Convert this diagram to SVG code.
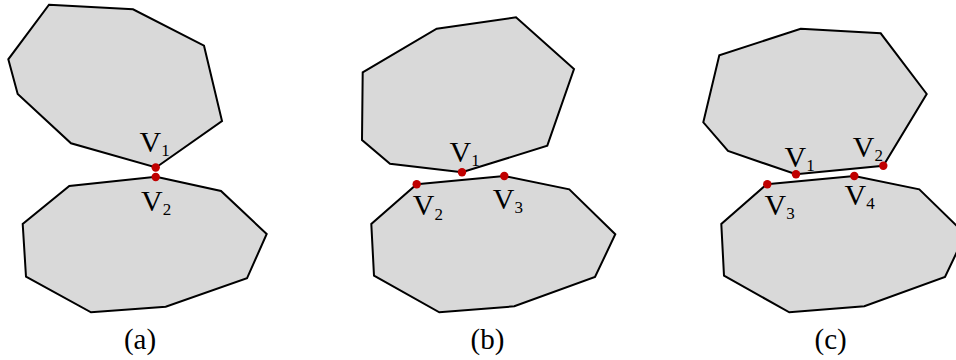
<svg xmlns="http://www.w3.org/2000/svg" width="956" height="360" viewBox="0 0 956 360">
<style>
.poly{fill:#d9d9d9;stroke:#000;stroke-width:2;stroke-linejoin:miter}
.dot{fill:#c00000}
</style>
<rect width="956" height="360" fill="#fff"/>
<g id="panel-a">
<g id="a-top"><polygon class="poly" points="49,4.7 133,9.3 204,45.7 222,121 156,167.5 71,143.3 17.7,94 8.3,59.3"/></g>
<g id="a-bottom"><polygon class="poly" points="156,176.7 221,191 266.7,234 247,278.3 165.7,306.7 91,312.3 26,276.7 22.7,224 69.3,186"/></g>
</g>
<g id="panel-b">
<g id="b-top"><polygon class="poly" points="436.7,28.7 516,17.3 574,69 547.3,145.7 462,172.3 390,163.7 362,140 362.7,72.3"/></g>
<g id="b-bottom"><polygon class="poly" points="416.7,184.3 504.3,176 569.3,189.3 615.3,234.3 595,277 514.3,306.3 439.3,312.3 374,275.7 371.3,224"/></g>
</g>
<g id="panel-c">
<g id="c-top"><polygon class="poly" points="800.7,28.7 880.7,33.3 926.7,94 883.3,165.7 796,174.3 728,151 703.3,122.3 719.3,55.3"/></g>
<g id="c-bottom"><polygon class="poly" points="766.7,184.3 854.3,176 919.3,189.3 965.3,234.3 945,277 864.3,306.3 789.3,312.3 724,275.7 721.3,224"/></g>
</g>
<g id="vertices">
<circle class="dot" cx="155.7" cy="167.5" r="4.2"/>
<circle class="dot" cx="155.7" cy="177" r="4.2"/>
<circle class="dot" cx="462" cy="172.3" r="4.2"/>
<circle class="dot" cx="416.7" cy="184.3" r="4.2"/>
<circle class="dot" cx="504.3" cy="176" r="4.2"/>
<circle class="dot" cx="796" cy="174.3" r="4.2"/>
<circle class="dot" cx="883.3" cy="165.7" r="4.2"/>
<circle class="dot" cx="767.3" cy="184.3" r="4.2"/>
<circle class="dot" cx="854.3" cy="176" r="4.2"/>
</g>
<g id="labels" font-family="'Liberation Serif', 'Times New Roman', serif" font-size="30" fill="#000">
<text x="139.5" y="152.3">V<tspan font-size="17" dy="4">1</tspan></text>
<text x="141" y="210.5">V<tspan font-size="17" dy="4">2</tspan></text>
<text x="449.5" y="161.7">V<tspan font-size="17" dy="4">1</tspan></text>
<text x="412.8" y="215">V<tspan font-size="17" dy="4.5">2</tspan></text>
<text x="492.8" y="208.5">V<tspan font-size="17" dy="4.5">3</tspan></text>
<text x="784.5" y="166.7">V<tspan font-size="17" dy="3.8">1</tspan></text>
<text x="852.8" y="156.7">V<tspan font-size="17" dy="4.3">2</tspan></text>
<text x="764.5" y="215">V<tspan font-size="17" dy="4">3</tspan></text>
<text x="844.5" y="205">V<tspan font-size="17" dy="3.5">4</tspan></text>
</g>
<g id="captions" font-family="'Liberation Serif', 'Times New Roman', serif" font-size="29" fill="#000" text-anchor="middle">
<text x="140" y="349">(a)</text>
<text x="487.5" y="349">(b)</text>
<text x="830.7" y="349">(c)</text>
</g>
</svg>
